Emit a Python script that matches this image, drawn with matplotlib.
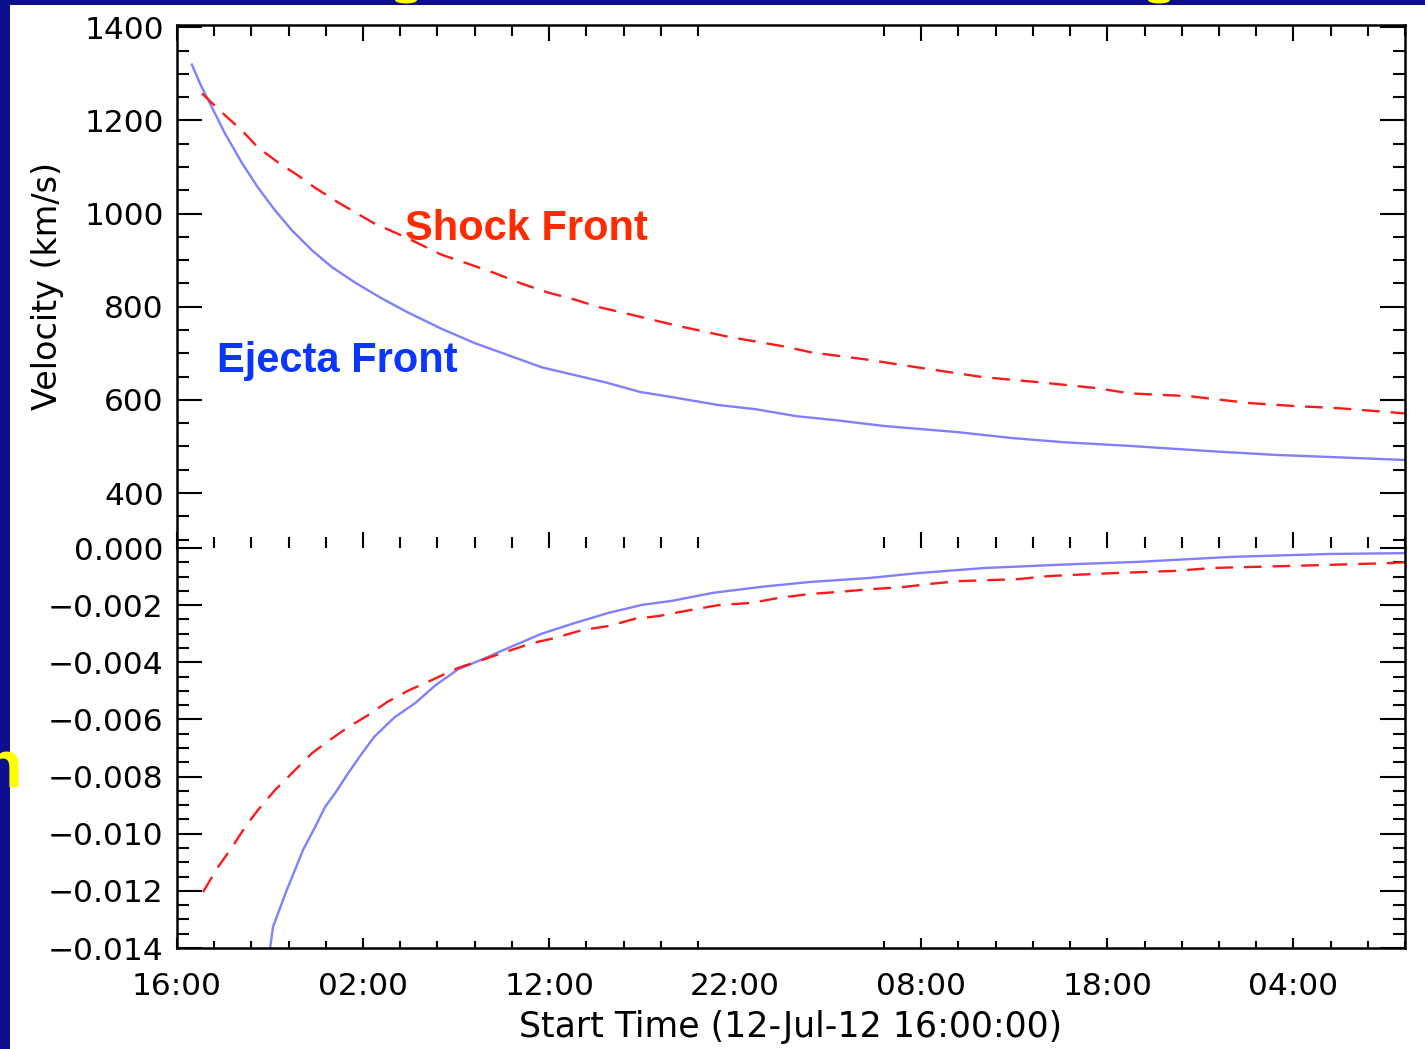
import matplotlib
matplotlib.use("Agg")
import matplotlib.pyplot as plt
from matplotlib.patches import Rectangle, Ellipse
from matplotlib.ticker import FixedLocator, FuncFormatter

# hours after 12-Jul-12 16:00
ejecta_v_t = [0.8, 1.24, 1.88, 2.58, 3.5, 4.35, 5.27, 6.18, 7.26, 8.33, 9.57, 11.0,
              12.4, 14.2, 16.0, 17.8, 19.6, 21.4, 23.0, 24.9, 26.6, 29.1, 31.1, 33.3,
              35.5, 38.0, 41.9, 44.9, 47.7, 51.3, 55.5, 59.0, 62.2, 66.0]
ejecta_v = [1320, 1279, 1228, 1172, 1108, 1056, 1007, 964, 921, 885, 852, 818,
            788, 753, 722, 696, 670, 653, 638, 617, 606, 589, 580, 565,
            556, 544, 531, 518, 509, 501, 490, 482, 477, 471]

shock_v_t = [1.34, 2.42, 3.5, 4.35, 5.43, 6.5, 7.4, 8.66, 10.6, 12.3, 14.2, 15.6,
             17.1, 18.5, 19.9, 21.4, 22.7, 23.9, 26.8, 29.7, 32.6, 34.1, 37.0, 40.1,
             43.3, 46.3, 49.5, 51.2, 54.4, 57.7, 60.0, 62.5, 66.0]
shock_v = [1258, 1217, 1178, 1142, 1110, 1082, 1056, 1024, 979, 949, 912, 893,
           872, 850, 831, 815, 799, 788, 760, 735, 715, 702, 687, 668,
           649, 638, 625, 614, 608, 593, 587, 582, 571]

ejecta_a_t = [4.9, 5.16, 5.9, 6.34, 6.77, 7.42, 7.96, 8.5, 9.2, 9.95, 10.6, 11.7,
              12.8, 13.9, 15.1, 16.4, 17.8, 19.6, 21.4, 23.2, 25.0, 26.6, 28.8, 31.4,
              34.0, 37.2, 39.8, 43.4, 48.4, 51.5, 56.7, 61.9, 66.0]
ejecta_a = [-0.01450, -0.01326, -0.01197, -0.01127, -0.01057, -0.00977, -0.00906,
            -0.00858, -0.00788, -0.00718, -0.00661, -0.00592, -0.00543, -0.00480,
            -0.00425, -0.00390, -0.00350, -0.00300, -0.00262, -0.00227, -0.00199,
            -0.00185, -0.00157, -0.00136, -0.00119, -0.00105, -0.00088, -0.00070,
            -0.00056, -0.00049, -0.00031, -0.00021, -0.00018]

shock_a_t = [1.4, 2.2, 2.96, 3.66, 4.35, 5.27, 6.18, 7.26, 8.06, 9.2, 10.27, 11.3,
             12.4, 13.7, 15.1, 16.4, 17.5, 19.1, 20.3, 21.8, 23.2, 24.6, 25.9, 27.6,
             29.1, 30.9, 32.3, 34.0, 35.5, 37.3, 39.0, 40.4, 42.0, 45.2, 46.9, 50.3,
             53.7, 55.6, 61.4, 65.1, 66.0]
shock_a = [-0.01204, -0.01117, -0.01047, -0.00977, -0.00917, -0.00847, -0.00788,
           -0.00718, -0.00679, -0.00627, -0.00585, -0.00539, -0.00500, -0.00462,
           -0.00420, -0.00392, -0.00367, -0.00333, -0.00315, -0.00287, -0.00273,
           -0.00248, -0.00238, -0.00217, -0.00200, -0.00192, -0.00175, -0.00161,
           -0.00154, -0.00144, -0.00137, -0.00126, -0.00116, -0.00109, -0.00098,
           -0.00088, -0.00080, -0.00070, -0.00060, -0.00053, -0.00050]

x_ticks = [0, 10, 20, 30, 40, 50, 60]
x_labels = ["16:00", "02:00", "12:00", "22:00", "08:00", "18:00", "04:00"]
v_ticks = [400, 600, 800, 1000, 1200, 1400]
a_ticks = [0.0, -0.002, -0.004, -0.006, -0.008, -0.010, -0.012, -0.014]

NAVY = "#0c0f8e"
BLUE_LINE = "#8080ff"
RED_LINE = "#ff1a1a"
TICK_FS = 22.5

W, H = 1425, 1049
fig = plt.figure(figsize=(W / 100, H / 100), dpi=100, facecolor=NAVY)
fig.patches.append(Rectangle((10 / W, 0), 1, 1 - 5 / H, transform=fig.transFigure,
                             facecolor="white", edgecolor="none", zorder=-10))
# bits of the slide title peeking in at the top
for gx in (406, 1159):
    fig.patches.append(Ellipse((gx / W, 1), 22 / W, 7 / H, transform=fig.transFigure,
                               facecolor="#ffff00", edgecolor="none", zorder=5))

x0, x1 = 177 / W, 1405 / W
ax1 = fig.add_axes([x0, 1 - 548 / H, x1 - x0, (548 - 25) / H])
ax2 = fig.add_axes([x0, 1 - 948 / H, x1 - x0, (948 - 548) / H])

dash = (7.5, 4.6)
ax1.plot(ejecta_v_t, ejecta_v, color=BLUE_LINE, lw=1.7)
ax1.plot(shock_v_t, shock_v, color=RED_LINE, lw=1.7, dashes=dash)
ax2.plot(ejecta_a_t, ejecta_a, color=BLUE_LINE, lw=1.7)
ax2.plot(shock_a_t, shock_a, color=RED_LINE, lw=1.7, dashes=dash)

ax1.set_ylim(282, 1405)
ax2.set_ylim(-0.014, 0.0)

# IDL left a gap in the minor x ticks between hours 28 and 38
minor_x = [h for h in range(0, 67, 2) if h % 10 and not (28 < h < 38)]
for ax in (ax1, ax2):
    ax.set_xlim(0, 66)
    ax.set_xticks(x_ticks)
    ax.xaxis.set_minor_locator(FixedLocator(minor_x))
    for s in ax.spines.values():
        s.set_linewidth(1.8)
    ax.tick_params(axis="y", which="both", direction="in", left=True, right=True,
                   width=1.5, labelsize=TICK_FS, pad=9.5)
    ax.tick_params(axis="y", which="major", length=18)
    ax.tick_params(axis="y", which="minor", length=8.6)

ax1.set_yticks(v_ticks)
ax1.yaxis.set_minor_locator(FixedLocator(range(300, 1401, 50)))
ax1.spines["bottom"].set_visible(False)
ax1.tick_params(axis="x", which="both", direction="in", top=True, bottom=True,
                labelbottom=False, width=1.5)
ax1.tick_params(axis="x", which="major", length=11.5)
ax1.tick_params(axis="x", which="minor", length=8)
ax1.set_ylabel("Velocity (km/s)", fontsize=24)
ax1.yaxis.set_label_coords(-0.092, 0.5)

ax2.set_yticks(a_ticks)
ax2.yaxis.set_minor_locator(FixedLocator([-0.0005 * i for i in range(29)]))
ax2.yaxis.set_major_formatter(FuncFormatter(lambda v, p: f"{v:.3f}".replace("-", "\u2212")))
ax2.spines["top"].set_visible(False)
ax2.set_xticklabels(x_labels)
ax2.tick_params(axis="x", which="both", direction="in", top=False, bottom=True,
                width=1.5, labelsize=TICK_FS, pad=17)
ax2.tick_params(axis="x", which="major", length=7.5)
ax2.tick_params(axis="x", which="minor", length=5)
ax2.set_xlabel("Start Time (12-Jul-12 16:00:00)", fontsize=25, labelpad=7)

# no major tick mark at 22:00 either
for ax in (ax1, ax2):
    t = ax.xaxis.get_major_ticks()[3]
    t.tick1line.set_visible(False)
    t.tick2line.set_visible(False)

fig.text(405 / W, 1 - 240 / H, "Shock Front", color="#ff2a00", fontsize=30,
         fontweight="bold", family="Liberation Sans", ha="left", va="baseline")
fig.text(217 / W, 1 - 372 / H, "Ejecta Front", color="#0a36ff", fontsize=30,
         fontweight="bold", family="Liberation Sans", ha="left", va="baseline")

# edge of a slide word on the left
fig.text(22 / W, 1 - 787 / H, "n", color="#ffff00", fontsize=48, fontweight="bold",
         family="Liberation Sans", ha="right", va="baseline")

fig.savefig("out.png", dpi=100, facecolor=fig.get_facecolor())
